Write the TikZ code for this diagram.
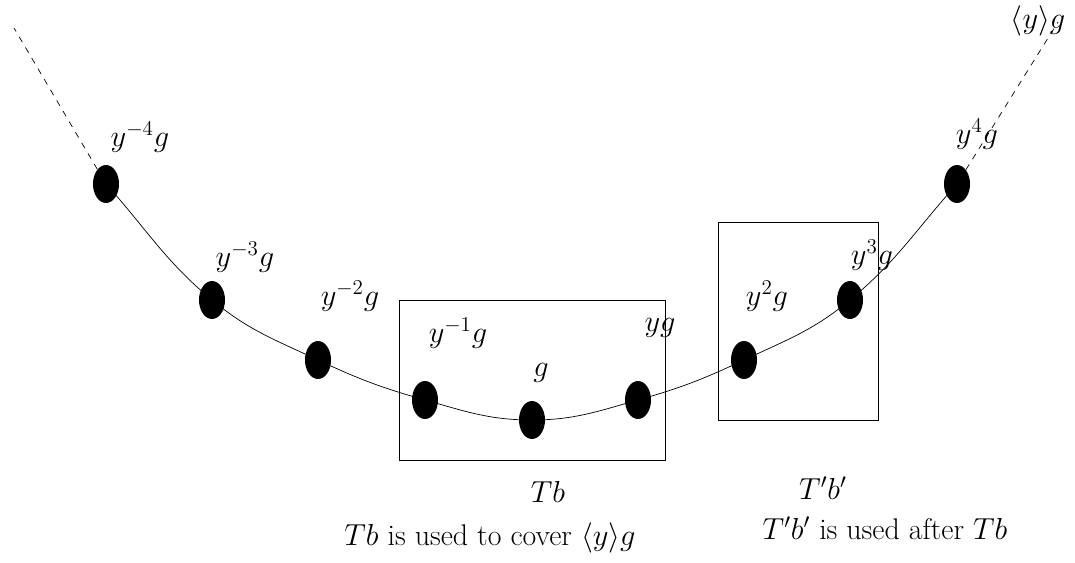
\documentclass[tikz,border=0pt]{standalone}
\usetikzlibrary{shapes.geometric, positioning}

\begin{document}
\begin{tikzpicture}[
        x = 0.02cm, y = -0.02cm,
        every node/.style = {font = \fontsize{17}{20}\selectfont},
        dot/.style = {ellipse, fill = black, inner sep = 0pt,
                      minimum width = 0.52cm, minimum height = 0.76cm},
        lbl/.style = {inner sep = 1pt},
        tail/.style = {dash pattern = on 3.5pt off 3.5pt}
    ]
    \useasboundingbox (0,0) rectangle (1075,563);

    % boxes
    \node[draw, minimum width = 5.32cm, minimum height = 3.2cm] (tb) at (532,380) {};
    \node[draw, minimum width = 3.2cm, minimum height = 3.96cm] (tpb) at (798,321) {};

    % points of the coset
    \node[dot] (m4) at (106,184) {};
    \node[dot] (m3) at (212,300) {};
    \node[dot] (m2) at (318,360) {};
    \node[dot] (m1) at (425,400) {};
    \node[dot] (g0) at (532,420) {};
    \node[dot] (p1) at (638,400) {};
    \node[dot] (p2) at (744,360) {};
    \node[dot] (p3) at (850,300) {};
    \node[dot] (p4) at (957,184) {};

    \coordinate (lend) at (14,28);
    \coordinate (rend) at (1058,22);

    \draw (m4.center) to[out=-48, in=140.3] (m3.center)
                      to[out=-39.7, in=154.8] (m2.center)
                      to[out=-25.2, in=164.3] (m1.center)
                      to[out=-15.7, in=180] (g0.center)
                      to[out=0, in=195.7] (p1.center)
                      to[out=15.7, in=205.2] (p2.center)
                      to[out=25.2, in=219.7] (p3.center)
                      to[out=39.7, in=228] (p4.center);
    \draw[tail] (m4) -- (lend);
    \draw[tail] (p4) -- (rend);

    % labels
    \node[lbl] (lm4) at (140,137) {$y^{-4}g$};
    \node[lbl] (lm3) at (245,257) {$y^{-3}g$};
    \node[lbl] (lm2) at (350,296) {$y^{-2}g$};
    \node[lbl] (lm1) at (458,333) {$y^{-1}g$};
    \node[lbl] (lg0) at (541,373) {$g$};
    \node[lbl] (lp1) at (660,328) {$yg$};
    \node[lbl] (lp2) at (767,296) {$y^{2}g$};
    \node[lbl] (lp3) at (872,255) {$y^{3}g$};
    \node[lbl] (lp4) at (977,134) {$y^{4}g$};
    \node[lbl] (lcos) at (1038,21) {$\langle y\rangle g$};

    \node[lbl] (ltb) at (548,492) {$Tb$};
    \node[lbl] (ltpb) at (823,488) {$T'b'$};
    \node[lbl] (ctb) at (490,538) {$Tb$ is used to cover $\langle y\rangle g$};
    \node[lbl] (ctpb) at (885,528) {$T'b'$ is used after $Tb$};

\end{tikzpicture}
\end{document}
